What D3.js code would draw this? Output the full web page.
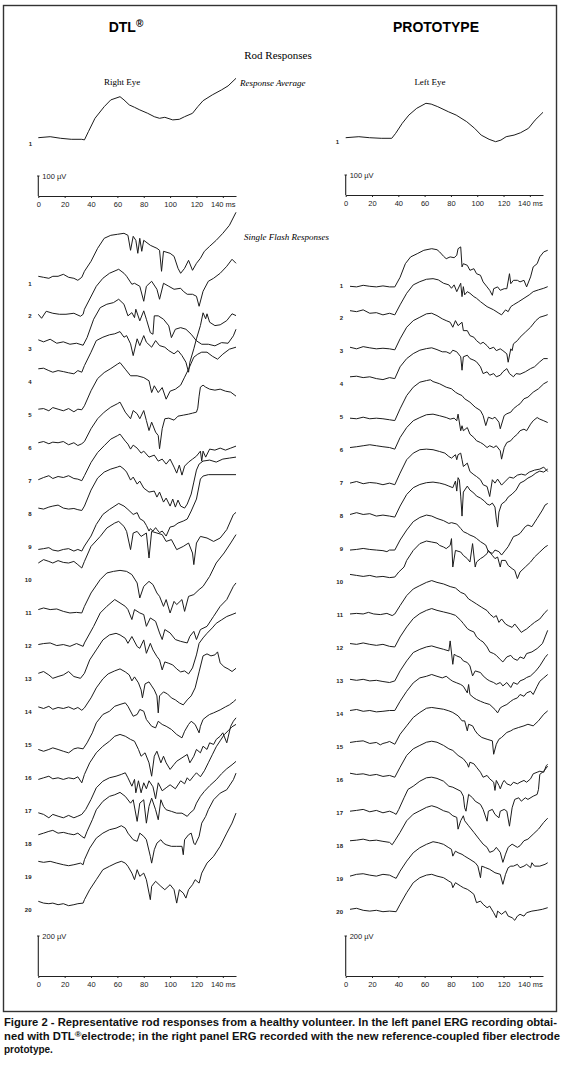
<!DOCTYPE html>
<html>
<head>
<meta charset="utf-8">
<script src="https://cdn.jsdelivr.net/npm/d3@7"></script>
<style>
  body { margin: 0; background: #fff; }
</style>
</head>
<body>
<svg id="fig"></svg>
<script>
// time axis ticks (ms)
const timeTicks = [0, 20, 40, 60, 80, 100, 120, 140];
const flashNumbers = d3.range(1, 21);

// response averages, [ms, µV] relative to the row mark
const avgDTL = [[0,28],[9,33],[17,25],[25,20],[33,20],[35,17],[38,58],[43,125],[50,183],[55,217],[62,233],[65,217],[69,192],[73,180],[77,167],[83,150],[88,133],[92,125],[96,130],[102,117],[107,120],[111,133],[117,150],[121,183],[125,213],[132,242],[139,267],[144,287],[150,325]];
const avgProto = [[0,20],[10,25],[18,20],[27,17],[35,17],[38,42],[43,92],[48,133],[54,167],[61,192],[65,188],[70,175],[78,150],[84,133],[92,100],[98,67],[103,33],[109,12],[114,0],[118,8],[122,25],[128,33],[133,45],[139,67],[144,108],[150,147]];

// single flash responses, DTL electrode (left panel)
const flashDTL = [
  [[0,35],[4,30],[8,25],[11,35],[15,35],[19,45],[23,30],[27,25],[30,15],[33,30],[35,60],[40,110],[45,175],[50,225],[55,240],[60,245],[65,250],[68,240],[70,165],[72,235],[74,215],[75.5,150],[77,225],[78.5,160],[80,215],[85,190],[90,175],[92,165],[93.5,60],[95,160],[100,150],[103,135],[106,75],[108,50],[111,75],[114,115],[117,65],[120,100],[123,125],[126,160],[130,185],[135,215],[140,250],[145,290],[150,355]],
  [[0,10],[2.5,-10],[6,25],[11,15],[16,10],[21,10],[27,15],[32,0],[34,10],[35,35],[44,150],[49,190],[54,215],[61,235],[65,215],[67,200],[71,160],[73,165],[77,150],[80,75],[82,150],[86,175],[90,135],[92,85],[95,165],[99,150],[103,135],[108,140],[110,125],[113,110],[117,110],[120,100],[122,50],[125,125],[129,175],[133,190],[138,215],[143,250],[147,285],[150,265]],
  [[0,47],[4,37],[9,50],[14,30],[19,37],[24,25],[29,30],[34,20],[37,58],[42,150],[47,208],[52,225],[57,233],[61,250],[65,225],[68,167],[71,183],[73,158],[74,200],[77,142],[80,192],[82,150],[85,83],[87,75],[88,167],[91,167],[95,150],[99,117],[101,58],[104,100],[108,108],[112,100],[116,75],[120,42],[124,25],[129,25],[134,17],[139,33],[144,30],[148,67],[150,100]],
  [[0,67],[4,70],[8,58],[11,50],[15,58],[19,53],[23,47],[27,42],[30,58],[33,50],[35,83],[40,150],[44,208],[49,225],[54,237],[58,242],[62,253],[65,225],[67,233],[70,192],[72,133],[75,217],[77,183],[80,233],[82,200],[86,175],[89,208],[92,183],[96,175],[99,158],[103,142],[106,158],[109,133],[112,100],[114,50],[115,100],[118,167],[120,217],[123,283],[125,347],[127,317],[128,342],[130,300],[134,283],[138,287],[143,308],[147,342],[150,333]],
  [[0,30],[4,33],[8,22],[11,38],[15,30],[19,22],[23,33],[27,17],[30,30],[33,27],[35,47],[40,122],[45,183],[50,213],[55,233],[60,255],[62,263],[66,230],[70,197],[75,197],[80,188],[84,172],[86,113],[88,147],[91,113],[94,138],[97,80],[100,120],[104,130],[108,150],[111,190],[114,230],[116,260],[118,290],[121,305],[124,315],[128,315],[132,295],[136,280],[140,305],[145,330],[150,340]],
  [[0,27],[4,33],[8,22],[11,30],[15,27],[19,33],[23,17],[27,27],[30,13],[33,22],[35,33],[40,97],[45,147],[50,180],[55,205],[60,222],[62,230],[66,180],[70,147],[72,188],[75,172],[77,147],[80,188],[82,138],[84,88],[86,130],[89,80],[91,63],[92,-3],[94,97],[96,147],[99,150],[103,140],[106,160],[110,165],[114,170],[117,175],[120,180],[121,200],[122,260],[123,305],[125,315],[127,305],[130,295],[134,290],[138,295],[142,285],[146,280],[150,260]],
  [[0,7],[4,18],[8,27],[11,13],[15,23],[19,18],[23,27],[27,13],[30,10],[33,2],[35,27],[40,93],[45,143],[50,177],[55,210],[60,227],[62,235],[66,200],[68,185],[70,160],[72,180],[75,165],[78,140],[80,150],[84,120],[88,130],[91,100],[94,110],[97,85],[100,110],[103,70],[105,40],[107,80],[109,30],[111,75],[114,95],[117,110],[120,125],[123,150],[124,100],[125,150],[127,120],[130,160],[134,155],[138,165],[142,155],[146,165],[150,175]],
  [[0,30],[4,25],[8,35],[11,40],[15,45],[19,30],[23,25],[27,28],[30,22],[33,18],[35,40],[40,120],[45,180],[50,210],[55,225],[60,235],[62,240],[65,225],[67,210],[70,170],[72,185],[75,150],[77,165],[80,130],[84,110],[88,115],[90,85],[92,110],[95,60],[97,80],[100,40],[102,75],[104,35],[106,70],[108,40],[111,30],[113,50],[116,100],[118,160],[120,220],[122,250],[125,265],[130,270],[135,260],[140,275],[145,280],[150,285]],
  [[0,-12],[4,-8],[8,-3],[11,-15],[15,-20],[19,-12],[23,-8],[27,-20],[30,-12],[33,-20],[35,5],[40,55],[44,113],[49,163],[54,188],[61,218],[65,205],[68,188],[72,163],[75,172],[77,142],[80,130],[82,108],[84,80],[85,92],[87,80],[89,97],[90,88],[92,72],[94,80],[97,55],[100,100],[103,105],[106,120],[110,130],[113,140],[116,180],[120,240],[123,340],[125,355],[129,362],[150,362]],
  [[0,85],[4,102],[8,93],[11,85],[15,97],[19,88],[23,85],[27,93],[30,77],[33,60],[35,93],[40,168],[47,218],[52,260],[58,285],[61,293],[65,268],[67,243],[70,152],[72,235],[75,243],[78,218],[82,235],[84,110],[86,243],[90,235],[94,227],[97,193],[101,202],[105,152],[110,168],[114,185],[117,135],[118,77],[120,185],[123,218],[128,210],[133,193],[138,210],[143,252],[148,327],[150,338]],
  [[0,17],[4,25],[9,17],[14,20],[19,8],[24,0],[29,3],[33,0],[35,33],[40,100],[47,167],[52,200],[57,208],[62,213],[67,208],[71,192],[75,150],[77,75],[80,133],[84,158],[87,142],[90,100],[92,83],[95,33],[97,67],[100,0],[103,58],[105,42],[109,67],[111,8],[114,83],[118,92],[122,117],[125,133],[130,183],[135,250],[141,300],[146,350],[150,392]],
  [[0,7],[4,12],[9,15],[14,2],[19,7],[24,-2],[29,12],[34,-2],[35,15],[42,98],[47,165],[52,198],[58,232],[62,215],[66,198],[68,182],[71,132],[73,182],[77,165],[80,157],[82,98],[85,140],[89,123],[92,65],[94,32],[96,82],[100,65],[104,32],[108,23],[113,15],[115,48],[118,73],[120,32],[123,82],[128,98],[133,148],[138,198],[143,232],[148,298],[150,315]],
  [[0,28],[4,37],[8,20],[11,3],[15,12],[19,20],[23,37],[27,12],[32,3],[35,28],[39,95],[44,145],[49,195],[54,220],[59,228],[62,220],[66,203],[68,178],[71,212],[75,162],[77,153],[80,195],[82,128],[85,178],[87,145],[90,112],[92,95],[94,45],[96,85],[99,78],[102,70],[105,50],[108,35],[111,40],[114,25],[117,55],[120,120],[122,178],[125,205],[128,228],[132,255],[135,278],[139,295],[143,312],[147,322],[150,330]],
  [[0,25],[4,17],[8,28],[11,13],[15,22],[19,17],[23,25],[27,13],[30,22],[33,8],[35,20],[40,70],[44,120],[49,165],[53,190],[58,205],[62,215],[66,200],[69,185],[71,155],[73,175],[76,145],[78,110],[79,70],[81,140],[84,150],[86,130],[88,110],[90,80],[91,-5],[92,80],[95,100],[98,90],[101,70],[104,60],[107,45],[110,35],[113,60],[116,80],[119,120],[122,200],[125,280],[128,290],[131,280],[134,285],[136,300],[138,245],[141,225],[144,215],[147,202],[150,218]],
  [[0,-23],[4,-32],[8,-23],[11,-15],[15,-23],[19,-32],[23,-40],[27,-20],[30,-15],[34,-20],[37,10],[41,60],[44,110],[49,152],[54,168],[58,193],[62,202],[66,210],[68,193],[72,143],[75,152],[77,177],[80,168],[82,127],[86,93],[89,85],[91,118],[94,102],[97,93],[101,77],[105,52],[109,35],[111,68],[114,102],[116,118],[119,102],[122,60],[123,93],[125,127],[128,143],[130,152],[133,160],[138,175],[142,190],[145,200],[148,215],[150,227]],
  [[0,-8],[4,0],[8,8],[11,-5],[15,0],[19,-8],[23,0],[27,-5],[30,5],[33,-25],[35,17],[39,75],[44,125],[49,158],[54,183],[58,208],[62,217],[66,208],[70,192],[73,183],[76,142],[78,108],[81,125],[84,75],[86,8],[88,108],[90,133],[93,75],[95,108],[97,75],[100,42],[103,67],[105,83],[109,100],[113,117],[115,75],[118,108],[120,142],[123,125],[125,158],[128,142],[130,175],[133,167],[135,192],[138,208],[140,225],[143,175],[146,258],[148,283],[150,300]],
  [[0,-10],[4,-18],[8,-35],[11,-18],[15,-27],[19,-35],[23,-23],[27,-35],[30,-27],[33,-18],[36,7],[40,57],[44,115],[49,148],[54,165],[59,173],[63,182],[66,190],[68,165],[71,123],[73,157],[74,90],[76,150],[78,90],[80,140],[82,110],[84,150],[87,120],[89,60],[91,140],[94,100],[97,115],[100,130],[104,110],[108,150],[111,135],[113,165],[115,150],[118,175],[120,190],[123,170],[126,200],[129,240],[132,280],[135,320],[138,350],[141,380],[144,400],[147,420],[150,432]],
  [[0,45],[4,53],[8,62],[11,67],[15,53],[19,57],[23,50],[27,45],[30,53],[33,37],[35,28],[37,62],[41,120],[44,170],[49,212],[54,237],[58,245],[62,257],[66,237],[70,203],[72,220],[75,112],[77,203],[80,220],[82,103],[84,187],[86,228],[89,170],[91,120],[93,220],[95,187],[97,170],[101,162],[105,153],[109,153],[113,137],[115,153],[118,170],[120,203],[123,237],[126,262],[130,290],[135,320],[139,350],[143,375],[147,395],[150,412]],
  [[0,77],[4,72],[9,77],[14,68],[19,60],[23,55],[27,60],[32,68],[34,60],[35,85],[39,143],[44,193],[49,218],[54,235],[59,243],[63,255],[66,243],[68,218],[72,185],[75,177],[77,218],[80,202],[82,185],[85,102],[86,68],[88,135],[90,168],[93,185],[95,168],[97,160],[101,152],[105,152],[109,152],[110,110],[111,185],[114,210],[116,218],[118,168],[119,160],[122,202],[124,268],[127,302],[129,335],[133,385],[138,418],[143,435],[148,485],[150,518]],
  [[0,42],[4,33],[8,30],[11,33],[15,25],[19,30],[23,20],[27,25],[30,30],[34,33],[35,50],[39,100],[44,150],[49,200],[54,217],[59,233],[63,242],[66,233],[68,217],[71,183],[73,150],[75,200],[77,167],[80,183],[82,150],[85,50],[86,117],[89,142],[93,117],[96,100],[100,125],[103,100],[105,33],[107,100],[110,83],[112,58],[114,100],[117,125],[119,150],[122,133],[124,183],[128,233],[133,267],[138,317],[143,383],[147,433],[150,483]]
];

// single flash responses, prototype electrode (right panel)
const flashProto = [
  [[0,-5],[5,-8],[10,0],[15,-5],[20,-8],[25,-3],[30,-8],[34,-8],[38,40],[42,108],[46,142],[51,158],[56,175],[62,183],[66,178],[68,167],[71,145],[73,133],[76,142],[79,138],[81,150],[82,183],[84,192],[85,92],[86,108],[89,100],[91,75],[94,83],[96,58],[99,50],[101,17],[104,-8],[106,-25],[108,-50],[109,-17],[112,-8],[114,-25],[117,-17],[119,-17],[121,58],[122,8],[124,25],[127,25],[129,17],[132,25],[134,-8],[137,42],[139,92],[142,108],[144,142],[147,167],[150,175]],
  [[0,38],[5,33],[10,42],[15,25],[20,28],[25,17],[30,25],[34,17],[38,67],[43,125],[48,167],[53,183],[58,195],[63,198],[67,192],[71,175],[75,167],[77,150],[79,167],[81,133],[84,175],[85,108],[86,158],[87,117],[89,133],[91,125],[94,108],[96,100],[99,83],[104,58],[109,42],[113,25],[115,17],[118,42],[120,33],[122,58],[124,67],[128,83],[132,100],[136,117],[139,133],[143,142],[147,150],[150,158]],
  [[0,20],[5,12],[10,23],[15,17],[20,12],[25,15],[30,12],[34,7],[38,62],[43,120],[48,153],[53,170],[58,187],[62,190],[66,178],[70,162],[73,153],[76,145],[78,120],[80,153],[82,128],[85,145],[86,103],[89,103],[91,78],[94,70],[96,53],[99,37],[101,45],[104,28],[106,12],[109,20],[111,3],[114,12],[116,3],[119,-13],[120,-55],[122,12],[123,3],[124,37],[127,53],[129,70],[133,95],[137,120],[141,153],[144,170],[148,178],[150,183]],
  [[0,37],[5,40],[10,33],[15,37],[20,28],[25,23],[30,33],[34,28],[38,87],[43,128],[48,153],[53,170],[58,178],[62,182],[66,173],[70,162],[73,162],[76,153],[78,170],[81,162],[84,137],[85,70],[86,137],[89,145],[91,128],[94,120],[96,112],[99,87],[101,53],[104,62],[106,45],[109,53],[111,37],[114,45],[116,62],[119,78],[121,53],[124,37],[126,53],[129,50],[133,62],[137,78],[140,87],[144,112],[147,128],[150,128]],
  [[0,-5],[5,-8],[10,0],[15,-8],[20,-5],[25,-8],[30,-13],[34,-17],[38,42],[43,108],[48,150],[53,175],[58,183],[61,187],[63,178],[68,167],[73,150],[77,142],[80,125],[82,117],[85,108],[87,92],[91,75],[95,50],[99,33],[101,8],[103,-42],[105,0],[108,-8],[110,0],[113,-25],[114,-58],[117,8],[119,17],[122,25],[124,42],[127,58],[129,67],[132,92],[135,100],[139,125],[143,142],[147,167],[150,178]],
  [[0,13],[5,17],[10,22],[15,27],[20,22],[25,17],[30,13],[34,5],[38,63],[43,113],[48,147],[53,163],[58,177],[63,180],[68,172],[73,163],[76,155],[79,160],[81,147],[82,180],[84,97],[85,122],[86,97],[89,113],[91,80],[94,63],[96,47],[99,38],[101,30],[104,13],[106,22],[109,13],[111,22],[114,-3],[115,-45],[117,13],[119,38],[122,47],[124,63],[127,80],[129,97],[132,105],[134,97],[137,130],[139,147],[142,163],[144,155],[147,147],[150,138]],
  [[0,0],[5,8],[10,-3],[15,3],[20,0],[25,-8],[30,0],[34,-8],[38,50],[43,117],[48,150],[53,167],[58,170],[63,167],[68,158],[72,150],[75,133],[77,125],[80,142],[81,117],[82,142],[84,150],[85,117],[86,83],[89,100],[91,58],[94,42],[96,33],[99,17],[101,-8],[104,-17],[106,-67],[108,17],[110,0],[112,20],[115,-10],[118,10],[121,30],[124,25],[127,40],[130,45],[133,40],[136,55],[140,65],[144,70],[147,80],[150,58]],
  [[0,8],[5,17],[10,8],[15,12],[20,0],[25,5],[30,0],[34,-5],[38,50],[43,108],[48,142],[53,158],[58,167],[63,170],[68,165],[72,158],[75,150],[78,142],[80,175],[81,125],[82,192],[83,180],[84,100],[85,0],[86,120],[89,150],[91,130],[94,115],[96,100],[99,90],[102,75],[104,60],[106,55],[108,65],[110,45],[111,-15],[112,-55],[113,20],[115,60],[118,75],[120,95],[123,110],[126,130],[129,165],[132,175],[135,190],[138,200],[141,215],[144,225],[147,220],[150,235]],
  [[0,-5],[5,-2],[10,3],[15,-2],[20,-5],[25,-8],[28,-13],[30,-5],[34,-5],[38,45],[43,95],[48,137],[53,158],[58,170],[62,165],[66,153],[71,142],[75,128],[77,132],[81,125],[84,103],[86,87],[89,78],[91,70],[94,62],[96,53],[99,37],[103,20],[105,-13],[108,-22],[110,-5],[113,-13],[115,-30],[118,-5],[120,12],[122,37],[124,62],[127,70],[129,78],[133,112],[135,120],[138,112],[142,153],[146,195],[148,220],[150,228]],
  [[0,38],[5,33],[10,28],[15,33],[20,25],[25,28],[30,22],[34,25],[37,50],[41,75],[43,108],[48,158],[53,192],[58,205],[62,200],[66,195],[68,183],[71,175],[73,167],[76,183],[77,217],[78,75],[80,158],[84,150],[86,133],[89,117],[91,100],[93,192],[95,75],[96,100],[99,117],[101,125],[104,142],[105,158],[108,133],[110,117],[112,125],[114,75],[115,108],[118,108],[120,83],[123,67],[125,58],[127,17],[129,50],[133,75],[137,100],[140,125],[144,150],[148,175],[150,183]],
  [[0,5],[5,8],[10,5],[14,13],[18,5],[23,2],[28,8],[32,-3],[34,5],[38,47],[43,97],[48,130],[53,147],[58,163],[62,172],[66,163],[71,155],[76,142],[80,135],[84,113],[87,105],[90,80],[92,72],[96,55],[100,38],[104,22],[106,5],[109,-12],[111,-3],[113,-37],[115,-20],[118,-45],[120,-53],[123,-62],[125,-45],[128,-70],[130,-87],[132,-78],[134,-70],[137,-53],[140,-37],[144,-20],[148,13],[150,25]],
  [[0,22],[5,18],[10,25],[15,18],[20,13],[25,18],[30,8],[34,5],[38,55],[43,105],[48,147],[53,172],[58,188],[62,197],[66,188],[71,180],[76,172],[80,163],[84,138],[86,122],[89,97],[91,88],[94,80],[96,55],[99,38],[101,30],[104,5],[106,-20],[109,-28],[111,-37],[114,-58],[116,-70],[119,-45],[122,-37],[124,-53],[127,-62],[129,-45],[132,-53],[134,-28],[138,-20],[142,-3],[146,22],[148,55],[150,88]],
  [[0,8],[5,3],[10,8],[15,0],[20,3],[25,-3],[30,-8],[34,0],[38,50],[43,100],[48,142],[53,158],[58,170],[62,175],[66,167],[71,158],[75,150],[76,200],[78,83],[79,133],[81,125],[84,117],[86,100],[89,92],[91,75],[93,25],[95,50],[99,42],[101,25],[104,8],[106,0],[109,-8],[111,-17],[114,-8],[116,-25],[119,-8],[122,-33],[124,-8],[127,-17],[129,0],[132,8],[134,17],[137,25],[141,50],[144,75],[148,117],[150,133]],
  [[0,17],[5,22],[10,13],[15,17],[20,10],[25,13],[30,17],[34,17],[38,63],[43,113],[48,155],[53,180],[58,188],[62,197],[66,188],[70,180],[73,188],[76,172],[78,163],[81,155],[84,147],[86,138],[89,105],[90,147],[91,97],[94,80],[96,72],[99,63],[102,55],[106,47],[110,22],[112,5],[114,30],[116,38],[119,47],[122,63],[124,72],[127,80],[129,97],[132,88],[134,105],[137,113],[139,97],[142,138],[144,163],[147,180],[150,197]],
  [[0,22],[5,27],[10,30],[15,17],[20,22],[23,10],[25,17],[28,22],[30,27],[34,13],[38,63],[43,105],[48,147],[53,172],[58,193],[62,197],[66,193],[71,188],[75,180],[78,172],[82,155],[85,130],[87,130],[89,80],[90,113],[93,105],[95,80],[97,63],[100,47],[104,38],[108,30],[109,-37],[111,13],[113,38],[115,47],[119,72],[122,80],[124,88],[128,97],[132,105],[135,113],[139,105],[143,130],[147,163],[150,180]],
  [[0,33],[5,27],[10,30],[15,22],[20,27],[25,17],[30,22],[34,13],[38,63],[43,122],[48,155],[53,172],[58,188],[62,193],[66,188],[71,172],[75,155],[78,147],[82,122],[86,105],[89,80],[90,63],[91,88],[94,80],[96,63],[99,38],[101,13],[104,22],[106,5],[109,-12],[110,-53],[111,-3],[113,-28],[114,-45],[116,-12],[117,-3],[119,-20],[122,-28],[124,-12],[127,-20],[129,-12],[132,-3],[134,-12],[137,5],[139,30],[142,38],[144,43],[147,38],[149,72],[150,77]],
  [[0,8],[5,12],[10,17],[15,5],[20,12],[25,0],[30,8],[33,0],[35,-8],[37,17],[41,75],[44,117],[48,133],[53,158],[58,175],[62,178],[66,172],[71,158],[75,133],[78,128],[84,108],[86,83],[87,25],[88,8],[90,92],[93,75],[95,58],[99,42],[101,17],[104,-42],[105,8],[108,17],[110,-8],[113,-25],[114,8],[117,17],[119,8],[121,-67],[123,25],[125,67],[128,75],[130,58],[133,75],[135,67],[139,83],[142,92],[143,117],[144,192],[147,208],[150,233]],
  [[0,25],[5,28],[10,33],[15,25],[20,28],[25,22],[30,17],[32,5],[34,25],[38,67],[43,125],[48,158],[53,175],[58,192],[62,200],[66,192],[71,175],[75,167],[78,150],[81,142],[82,83],[84,125],[86,150],[87,125],[90,100],[94,67],[98,33],[101,8],[104,-8],[106,-33],[109,-25],[111,-8],[114,-33],[116,-83],[118,-42],[120,-8],[123,8],[127,-8],[129,0],[132,25],[135,33],[139,58],[143,83],[147,117],[150,138]],
  [[0,13],[5,22],[10,25],[15,18],[20,13],[25,22],[30,18],[33,8],[35,2],[38,38],[43,88],[48,130],[53,155],[58,172],[63,185],[67,180],[71,172],[75,155],[77,147],[78,113],[80,138],[82,130],[85,122],[87,113],[91,97],[95,80],[97,63],[99,5],[100,63],[103,55],[106,47],[110,30],[114,22],[116,-28],[118,22],[120,55],[122,63],[124,63],[127,72],[129,55],[132,63],[134,72],[137,55],[138,80],[140,63],[144,63],[148,72],[150,80]],
  [[0,12],[5,17],[10,7],[15,3],[20,7],[25,0],[30,3],[35,0],[38,37],[43,95],[48,145],[53,170],[58,183],[62,187],[66,178],[71,170],[75,153],[77,145],[78,120],[80,145],[84,128],[86,120],[89,112],[91,103],[94,87],[96,45],[99,53],[101,37],[104,20],[106,28],[109,-5],[111,-30],[112,3],[115,-13],[118,3],[120,-22],[123,-30],[125,-43],[127,-22],[129,-13],[132,-22],[134,-5],[138,3],[142,7],[146,12],[150,20]]
];

const W = 563, H = 1070;
const svg = d3.select("#fig").attr("width", W).attr("height", H);
svg.append("rect").attr("width", W).attr("height", H).attr("fill", "#fff");

// outer frame
svg.append("rect")
  .attr("x", 3.5).attr("y", 5.5).attr("width", 553).attr("height", 1006)
  .attr("fill", "none").attr("stroke", "#333").attr("stroke-width", 1.4);

// scales
const amp = d3.scaleLinear().domain([0, 100]).range([0, 20]); // µV -> px
const xDTL = d3.scaleLinear().domain([0, 150]).range([38.3, 236]);
const xProto = d3.scaleLinear().domain([0, 150]).range([345.7, 543]);
const xProtoFlash = d3.scaleLinear().domain([0, 150]).range([350, 547.7]);
const rowDTL = d3.scaleLinear().domain([1, 20]).range([283.3, 909.7]);
const rowProto = d3.scaleLinear().domain([1, 20]).range([285.3, 911.7]);

const serif = "'Liberation Serif', 'Times New Roman', serif";
const sans = "'Liberation Sans', Arial, Helvetica, sans-serif";

function drawTrace(data, x, y0) {
  const line = d3.line().x((d) => x(d[0])).y((d) => y0 - amp(d[1]));
  svg.append("path")
    .datum(data)
    .attr("fill", "none")
    .attr("stroke", "#1c1c1c")
    .attr("stroke-width", 1)
    .attr("stroke-linejoin", "round")
    .attr("d", line);
}

function rowLabel(txt, x, y) {
  svg.append("text")
    .attr("x", x).attr("y", y + 2.2)
    .attr("text-anchor", "end")
    .attr("font-family", sans).attr("font-size", 6).attr("font-weight", "bold")
    .attr("fill", "#222")
    .text(txt);
}

function timeAxis(x, y, barUv, barText) {
  const g = svg.append("g")
    .attr("transform", `translate(0,${y})`)
    .call(d3.axisBottom(x).tickValues(timeTicks).tickSizeInner(2).tickSizeOuter(0)
      .tickPadding(4).tickFormat((d) => (d === 140 ? "140 ms" : d)));
  g.select(".domain").attr("stroke", "#222").attr("stroke-width", 1.1);
  g.selectAll(".tick line").attr("stroke", "#222");
  g.selectAll("text").attr("font-family", sans).attr("font-size", 7.5).attr("fill", "#222");

  const x0 = x(0), top = y - amp(barUv);
  svg.append("line").attr("x1", x0).attr("x2", x0).attr("y1", y).attr("y2", top)
    .attr("stroke", "#222").attr("stroke-width", 1.1);
  svg.append("line").attr("x1", x0 - 1.2).attr("x2", x0 + 1.2).attr("y1", top).attr("y2", top)
    .attr("stroke", "#222").attr("stroke-width", 1);
  svg.append("text").attr("x", x0 + 4).attr("y", top + 3)
    .attr("font-family", sans).attr("font-size", 7.5).attr("fill", "#222")
    .text(barText);
}

// titles
const t1 = svg.append("text").attr("x", 126).attr("y", 32).attr("text-anchor", "middle")
  .attr("font-family", sans).attr("font-size", 14).attr("font-weight", "bold");
t1.append("tspan").text("DTL");
t1.append("tspan").attr("font-size", 10).attr("dy", -5).text("®");
svg.append("text").attr("x", 436).attr("y", 32).attr("text-anchor", "middle")
  .attr("font-family", sans).attr("font-size", 14).attr("font-weight", "bold")
  .text("PROTOTYPE");

svg.append("text").attr("x", 278).attr("y", 59).attr("text-anchor", "middle")
  .attr("font-family", serif).attr("font-size", 11).text("Rod Responses");
svg.append("text").attr("x", 122).attr("y", 85).attr("text-anchor", "middle")
  .attr("font-family", serif).attr("font-size", 9).text("Right Eye");
svg.append("text").attr("x", 240).attr("y", 86)
  .attr("font-family", serif).attr("font-size", 9).attr("font-style", "italic").text("Response Average");
svg.append("text").attr("x", 430).attr("y", 85).attr("text-anchor", "middle")
  .attr("font-family", serif).attr("font-size", 9).text("Left Eye");
svg.append("text").attr("x", 244).attr("y", 240)
  .attr("font-family", serif).attr("font-size", 9).attr("font-style", "italic").text("Single Flash Responses");

// response averages
drawTrace(avgDTL, xDTL, 143.3);
rowLabel("1", 32, 143.3);
drawTrace(avgProto, xProto, 141.7);
rowLabel("1", 339, 141.7);
timeAxis(xDTL, 196, 100, "100 µV");
timeAxis(xProto, 195, 100, "100 µV");

// single flash responses
flashDTL.forEach((tr, i) => {
  drawTrace(tr, xDTL, rowDTL(flashNumbers[i]));
  rowLabel(flashNumbers[i], 31.5, rowDTL(flashNumbers[i]));
});
flashProto.forEach((tr, i) => {
  drawTrace(tr, xProtoFlash, rowProto(flashNumbers[i]));
  rowLabel(flashNumbers[i], 343, rowProto(flashNumbers[i]));
});
timeAxis(xDTL, 976, 200, "200 µV");
timeAxis(xProto, 976, 200, "200 µV");

// caption
const cap = svg.append("g").attr("font-family", sans).attr("font-size", 10)
  .attr("font-weight", "bold").attr("fill", "#111");
cap.append("text").attr("x", 4).attr("y", 1026)
  .attr("textLength", 553).attr("lengthAdjust", "spacingAndGlyphs")
  .text("Figure 2 - Representative rod responses from a healthy volunteer. In the left panel ERG recording obtai-");
const l2 = cap.append("text").attr("x", 4).attr("y", 1040)
  .attr("textLength", 556).attr("lengthAdjust", "spacingAndGlyphs");
l2.append("tspan").text("ned with DTL");
l2.append("tspan").attr("font-size", 8).attr("dy", -3.5).text("®");
l2.append("tspan").attr("dy", 3.5).text("electrode; in the right panel ERG recorded with the new reference-coupled fiber electrode");
cap.append("text").attr("x", 4).attr("y", 1053).text("prototype.");
</script>
</body>
</html>
